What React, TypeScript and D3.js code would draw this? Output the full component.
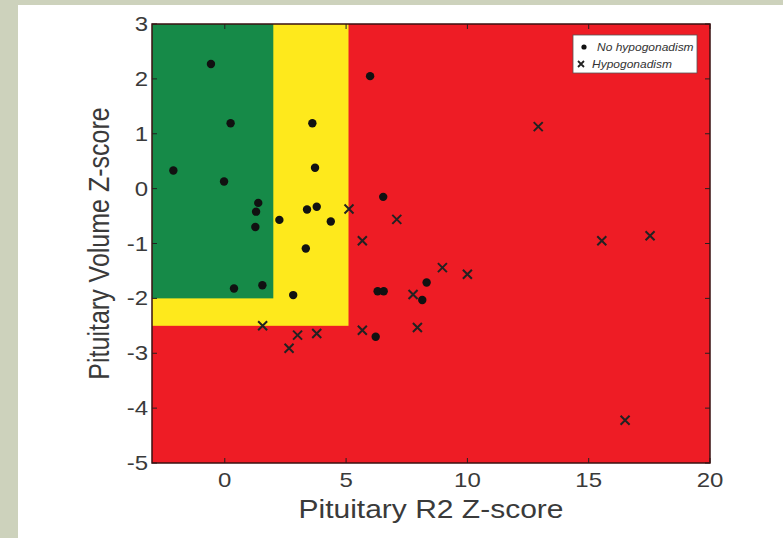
import React from 'react';
import * as d3 from 'd3';

// No hypogonadism (dots): [R2 z-score, volume z-score]
const noHypoX = [-0.57, 0.24, -2.12, -0.03, 1.38, 1.29, 1.26, 0.38, 1.55, 2.82, 2.25, 3.34, 3.39, 3.79, 4.37, 3.61, 3.72, 5.99, 6.53, 6.3, 6.55, 8.32, 8.14, 6.22];
const noHypoY = [2.27, 1.19, 0.33, 0.13, -0.26, -0.42, -0.7, -1.82, -1.76, -1.94, -0.57, -1.09, -0.38, -0.33, -0.6, 1.19, 0.38, 2.05, -0.15, -1.87, -1.87, -1.71, -2.03, -2.7];

// Hypogonadism (crosses)
const hypoX = [5.12, 7.09, 5.67, 8.97, 10.0, 7.76, 5.67, 7.94, 1.56, 3.0, 3.79, 2.65, 12.92, 15.54, 17.53, 16.5];
const hypoY = [-0.37, -0.56, -0.95, -1.44, -1.56, -1.93, -2.58, -2.53, -2.5, -2.67, -2.64, -2.91, 1.13, -0.95, -0.86, -4.22];

const xTicks = [0, 5, 10, 15, 20];
const yTicks = [3, 2, 1, 0, -1, -2, -3, -4, -5];

// zone limits: green then yellow
const greenX = 2, greenY = -2;
const yellowX = 5.1, yellowY = -2.5;

const W = 783, H = 538;
const m = { left: 152, right: 710, top: 24, bottom: 463 };
const SX = 1.2; // the original figure is stretched sideways

// text stretched horizontally around its anchor point
function SText(props: { x: number; y: number; size: number; anchor?: string; italic?: boolean; rotate?: number; fill?: string; children: React.ReactNode }) {
  const { x, y, size, anchor = 'start', italic, rotate, fill = '#3a3a3a', children } = props;
  const tf = `translate(${x},${y}) scale(${SX},1)` + (rotate ? ` rotate(${rotate})` : '');
  return (
    <text transform={tf} textAnchor={anchor} fontSize={size} fontStyle={italic ? 'italic' : undefined} fill={fill}>{children}</text>
  );
}

export default function App() {
  const x = d3.scaleLinear().domain([-3, 20]).range([m.left, m.right]);
  const y = d3.scaleLinear().domain([-5, 3]).range([m.bottom, m.top]);
  const font = '"Liberation Sans", Arial, sans-serif';

  return (
    <svg width={W} height={H} style={{ position: 'absolute', left: 0, top: 0 }} fontFamily={font}>
      <rect width={W} height={H} fill="#cdd2bc" />
      <rect x={18} y={5} width={W - 18} height={H - 5} fill="#ffffff" />

      {/* zones */}
      <rect x={m.left} y={m.top} width={m.right - m.left} height={m.bottom - m.top} fill="#ee1c25" />
      <rect x={x(-3)} y={y(3)} width={x(yellowX) - x(-3)} height={y(yellowY) - y(3)} fill="#fee91c" />
      <rect x={x(-3)} y={y(3)} width={x(greenX) - x(-3)} height={y(greenY) - y(3)} fill="#168a48" />

      {/* ticks */}
      {xTicks.map(t => (
        <g key={'x' + t}>
          <line x1={x(t)} x2={x(t)} y1={m.bottom} y2={m.bottom - 5} stroke="#222" />
          <line x1={x(t)} x2={x(t)} y1={m.top} y2={m.top + 5} stroke="#222" />
          <SText x={x(t)} y={487} size={20} anchor="middle">{t}</SText>
        </g>
      ))}
      {yTicks.map(t => (
        <g key={'y' + t}>
          <line x1={m.left} x2={m.left + 5} y1={y(t)} y2={y(t)} stroke="#222" />
          <line x1={m.right} x2={m.right - 5} y1={y(t)} y2={y(t)} stroke="#222" />
          <SText x={m.left - 4} y={y(t) + 7} size={20} anchor="end">{t}</SText>
        </g>
      ))}
      <rect x={m.left} y={m.top} width={m.right - m.left} height={m.bottom - m.top} fill="none" stroke="#3a1010" strokeWidth={1.5} />

      {/* points */}
      {noHypoX.map((v, i) => (
        <circle key={'d' + i} cx={x(v)} cy={y(noHypoY[i])} r={4.2} fill="#111" />
      ))}
      {hypoX.map((v, i) => {
        const cx = x(v), cy = y(hypoY[i]), s = 4.5;
        return (
          <path key={'c' + i} d={`M${cx - s},${cy - s}L${cx + s},${cy + s}M${cx - s},${cy + s}L${cx + s},${cy - s}`} stroke="#222" strokeWidth={2} />
        );
      })}

      {/* legend */}
      <rect x={573} y={35} width={124} height={38} fill="#fff" stroke="#555" strokeWidth={0.8} />
      <circle cx={584} cy={47} r={2.6} fill="#111" />
      <SText x={597} y={51} size={10} italic fill="#333">No hypogonadism</SText>
      <path d="M578,61L584,67M578,67L584,61" stroke="#222" strokeWidth={1.8} />
      <SText x={592} y={68} size={10} italic fill="#333">Hypogonadism</SText>

      {/* axis labels */}
      <SText x={(m.left + m.right) / 2} y={518} size={25} anchor="middle">Pituitary R2 Z-score</SText>
      <SText x={109} y={(m.top + m.bottom) / 2} size={25} anchor="middle" rotate={-90}>Pituitary Volume Z-score</SText>
    </svg>
  );
}
